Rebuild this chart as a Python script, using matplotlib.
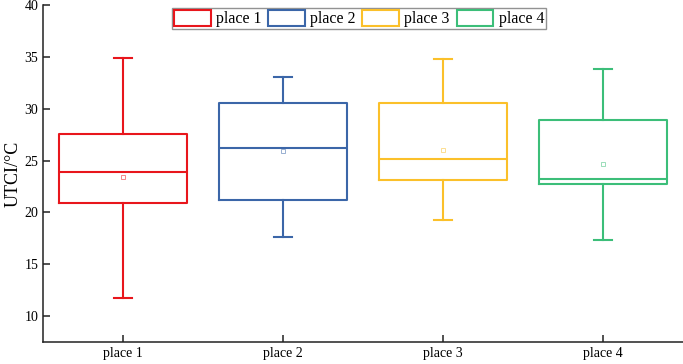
import matplotlib
matplotlib.use("Agg")
import matplotlib.pyplot as plt
from matplotlib.patches import Rectangle

plt.rcParams['font.family'] = ['Liberation Serif', 'DejaVu Serif']

# data (UTCI, deg C)
PLACES = ["place 1", "place 2", "place 3", "place 4"]
WHISK_LO = [11.7, 17.6, 19.3, 17.3]
Q1 = [20.9, 21.2, 23.1, 22.7]
MEDIAN = [23.9, 26.2, 25.2, 23.2]
Q3 = [27.6, 30.6, 30.6, 28.9]
WHISK_HI = [34.9, 33.1, 34.8, 33.8]
MEAN = [23.45, 25.9, 26.0, 24.7]
COLORS = ["#e8161c", "#3b66a8", "#fbc02a", "#3cbe79"]

YTICKS = [10, 15, 20, 25, 30, 35, 40]

fig = plt.figure(figsize=(6.83, 3.64), dpi=100)
ax = fig.add_axes([0.063, 0.0604, 0.937, 0.9256])

for i, place in enumerate(PLACES):
    stats = [{
        'label': place,
        'whislo': WHISK_LO[i], 'q1': Q1[i], 'med': MEDIAN[i],
        'q3': Q3[i], 'whishi': WHISK_HI[i], 'mean': MEAN[i],
        'fliers': [],
    }]
    c = COLORS[i]
    ax.bxp(stats, positions=[i + 1], widths=0.8, capwidths=0.11,
           showmeans=True, showfliers=False,
           boxprops=dict(color=c, lw=1.5),
           medianprops=dict(color=c, lw=1.5),
           whiskerprops=dict(color=c, lw=1.5),
           capprops=dict(color=c, lw=1.5),
           meanprops=dict(marker='s', markersize=3, markerfacecolor='none',
                          markeredgecolor=c, markeredgewidth=0.6, alpha=0.6))

ax.set_xlim(0.5, 4.5)
ax.set_ylim(7.5, 40)
ax.set_xticks(range(1, len(PLACES) + 1))
ax.set_xticklabels(PLACES)
ax.set_yticks(YTICKS)
ax.set_ylabel("UTCI/°C", fontsize=13, labelpad=2)

for side in ['top', 'right']:
    ax.spines[side].set_visible(False)
for side in ['left', 'bottom']:
    ax.spines[side].set_linewidth(1.1)
    ax.spines[side].set_color('#222222')
ax.tick_params(direction='in', length=5, width=1.1, labelsize=10, color='#222222')

handles = [Rectangle((0, 0), 1, 1, facecolor='none', edgecolor=c, lw=1.5) for c in COLORS]
leg = fig.legend(handles, PLACES, loc='upper center', bbox_to_anchor=(359 / 683, 1 - 8 / 364),
                 ncol=4, fontsize=11.5, frameon=True, fancybox=False, edgecolor='#777777',
                 handlelength=2.3, handleheight=1.15, handletextpad=0.33, columnspacing=0.42,
                 borderpad=0.12, borderaxespad=0)
leg.get_frame().set_linewidth(1.0)

fig.savefig("out.png", dpi=100, facecolor='w')
